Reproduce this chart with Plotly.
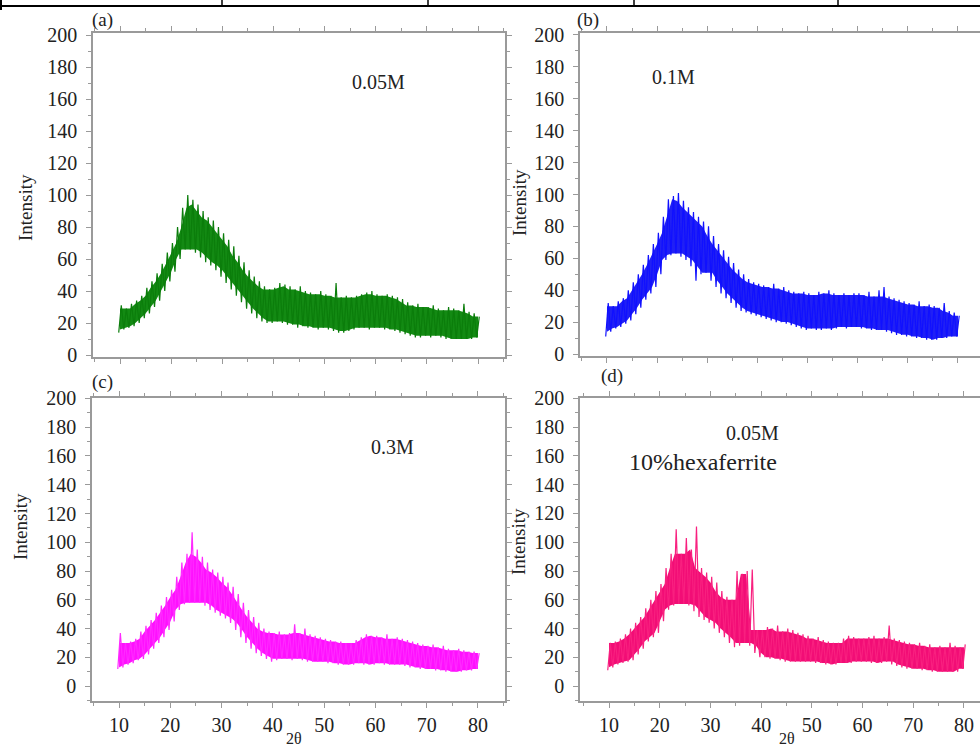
import plotly.graph_objects as go

W, H = 980, 749

# ---------------- data ----------------
two_theta = list(range(10, 81))  # 1 degree grid

a_hi = [31, 29, 32, 34, 37, 42, 46, 51, 57, 64,
        70, 80, 92, 100, 97, 94, 90, 86, 84, 80,
        76, 72, 68, 62, 58, 53, 49, 46, 43, 41,
        42, 45, 44, 43, 41, 43, 40, 39, 38, 40,
        38, 37, 45, 36, 37, 36, 37, 38, 39, 40,
        38, 37, 38, 37, 36, 35, 33, 31, 32, 30,
        30, 31, 29, 28, 30, 29, 28, 32, 27, 26, 24]
a_lo = [14, 16, 17, 18, 20, 23, 26, 30, 34, 40,
        46, 52, 60, 66, 66, 64, 61, 58, 56, 53,
        49, 45, 41, 37, 33, 29, 26, 23, 21, 20,
        20, 21, 20, 19, 19, 17, 18, 17, 17, 16,
        17, 16, 15, 14, 14, 15, 16, 17, 17, 16,
        17, 17, 16, 16, 15, 14, 13, 12, 11, 11,
        12, 11, 12, 11, 10, 10, 10, 10, 10, 10, 11]

b_hi = [32, 30, 33, 35, 40, 45, 50, 56, 62, 69,
        76, 86, 97, 99, 101, 96, 92, 89, 86, 83,
        80, 74, 69, 65, 61, 57, 53, 50, 47, 45,
        44, 43, 42, 44, 41, 42, 40, 39, 38, 39,
        38, 37, 39, 38, 40, 38, 37, 38, 37, 38,
        38, 37, 39, 36, 40, 42, 36, 35, 34, 33,
        32, 31, 33, 30, 31, 30, 29, 32, 27, 26, 24]
b_lo = [11, 14, 16, 17, 19, 21, 25, 29, 34, 38,
        42, 50, 59, 62, 63, 61, 59, 55, 46, 50,
        51, 46, 42, 38, 35, 32, 29, 27, 26, 25,
        24, 23, 22, 21, 20, 20, 19, 18, 17, 16,
        15, 16, 15, 15, 16, 15, 16, 17, 16, 17,
        17, 16, 16, 15, 15, 15, 14, 13, 12, 12,
        11, 11, 10, 10, 9, 9, 9, 10, 10, 11, 11]

c_hi = [37, 30, 31, 33, 38, 42, 46, 51, 56, 62,
        67, 76, 86, 92, 107, 95, 90, 86, 81, 79,
        76, 72, 69, 64, 58, 53, 48, 44, 40, 38,
        37, 38, 36, 37, 43, 37, 40, 36, 35, 34,
        33, 32, 31, 31, 30, 30, 32, 34, 36, 35,
        35, 34, 36, 33, 34, 33, 32, 31, 30, 29,
        28, 29, 27, 28, 26, 25, 26, 25, 24, 24, 23]
c_lo = [12, 13, 15, 16, 18, 19, 22, 26, 30, 34,
        39, 45, 53, 57, 58, 58, 58, 56, 53, 51,
        49, 47, 44, 39, 34, 30, 26, 23, 21, 19,
        17, 18, 19, 19, 18, 19, 18, 17, 17, 17,
        17, 16, 16, 15, 15, 15, 15, 16, 15, 15,
        15, 16, 15, 15, 15, 15, 14, 13, 13, 12,
        12, 12, 11, 11, 10, 10, 10, 10, 11, 11, 12]

d_hi = [30, 31, 33, 36, 40, 44, 48, 54, 60, 66,
        71, 82, 92, 109, 92, 103, 95, 111, 82, 79,
        76, 72, 66, 62, 60, 80, 78, 80, 81, 39,
        39, 41, 40, 42, 38, 40, 39, 37, 36, 35,
        33, 34, 32, 31, 30, 30, 33, 35, 34, 33,
        33, 34, 35, 33, 34, 42, 33, 32, 31, 30,
        29, 30, 28, 29, 27, 28, 27, 30, 28, 27, 29]
d_lo = [11, 13, 15, 16, 17, 18, 22, 26, 31, 34,
        37, 45, 53, 56, 57, 57, 56, 52, 48, 46,
        44, 40, 37, 34, 30, 27, 28, 30, 28, 23,
        20, 20, 19, 19, 18, 17, 17, 17, 17, 17,
        17, 16, 16, 15, 15, 15, 16, 16, 16, 17,
        17, 17, 16, 16, 16, 17, 15, 14, 13, 12,
        12, 12, 11, 11, 10, 10, 10, 10, 10, 10, 12]

panel_labels = ["(a)", "(b)", "(c)", "(d)"]
sample_labels = ["0.05M", "0.1M", "0.3M", "0.05M"]
y_ticks = list(range(0, 201, 20))
x_ticks = list(range(10, 81, 10))

series = [(a_lo, a_hi, "#0b7d0b", "#138a13"),
          (b_lo, b_hi, "#1010ff", "#2020f5"),
          (c_lo, c_hi, "#ff2aff", "#ff10ff"),
          (d_lo, d_hi, "#f8207f", "#f20d76")]


def zigzag(x, lo, hi):
    xs, ys = [], []
    for xi, l, h in zip(x, lo, hi):
        xs += [xi - 0.25, xi + 0.25]
        ys += [l, h]
    return xs, ys


def core(x, lo, hi):
    # dense body of the noisy band: the part covered by neighbouring samples too
    n = len(x)
    top = [min(hi[max(0, i - 1):i + 2]) for i in range(n)]
    bot = [max(lo[max(0, i - 1):i + 2]) for i in range(n)]
    px = list(x) + list(x[::-1])
    py = top + bot[::-1]
    return px, py


def fx(px):
    return px / W


def fy(py):
    return 1 - py / H


# panel geometry in pixels: (left, right, top, bottom, xrange, yrange)
panels = [
    (93, 505, 33, 357, [4.72, 85.28], [-1.25, 201.25]),
    (580, 980, 33, 356, [4.62, 84.39], [-1.25, 201.25]),
    (92, 505, 398, 701, [4.72, 85.28], [-10.3, 200.3]),
    (580, 980, 398, 701, [4.28, 83.16], [-10.4, 200.3]),
]

fig = go.Figure()
font_family = "Liberation Serif, Times New Roman, serif"
layout = dict(width=W, height=H, margin=dict(l=0, r=0, t=0, b=0, autoexpand=False),
              paper_bgcolor="white", plot_bgcolor="white", showlegend=False,
              font=dict(family=font_family, color="#222"))

for i, ((lo, hi, col, fillcol), (l, r, t, b, xr, yr)) in enumerate(zip(series, panels)):
    n = "" if i == 0 else str(i + 1)
    cx, cy = core(two_theta, lo, hi)
    fig.add_trace(go.Scatter(x=cx, y=cy, mode="lines", fill="toself",
                             fillcolor=fillcol, line=dict(width=0),
                             xaxis="x" + n, yaxis="y" + n, hoverinfo="skip"))
    xs, ys = zigzag(two_theta, lo, hi)
    fig.add_trace(go.Scatter(x=xs, y=ys, mode="lines",
                             line=dict(color=col, width=1.2),
                             xaxis="x" + n, yaxis="y" + n, hoverinfo="skip"))
    common = dict(showline=True, linecolor="#9a9a9a", linewidth=1.5,
                  ticks="outside", ticklen=5, tickcolor="#9a9a9a", showgrid=False,
                  zeroline=False, tickfont=dict(size=20, family=font_family, color="#222"))
    layout["xaxis" + n] = dict(domain=[fx(l), fx(r)], range=xr, anchor="y" + n,
                               tickvals=x_ticks, showticklabels=(i >= 2), mirror="ticks",
                               minor=dict(dtick=5, tick0=0, ticklen=3, ticks="outside",
                                          tickcolor="#9a9a9a"),
                               ticklabelstandoff=0, **common)
    layout["yaxis" + n] = dict(domain=[fy(b), fy(t)], range=yr, anchor="x" + n,
                               tickvals=y_ticks, mirror=("ticks" if i in (0, 2) else False),
                               minor=dict(dtick=10, tick0=0, ticklen=3, ticks="outside",
                                          tickcolor="#9a9a9a"),
                               ticklabelstandoff=5, **common)

fig.update_layout(**layout)


def ann(text, px, py, size, angle=0):
    fig.add_annotation(text=text, x=fx(px), y=fy(py), xref="paper", yref="paper",
                       xanchor="center", yanchor="middle", showarrow=False,
                       textangle=angle, font=dict(size=size, family=font_family, color="#222"))


for lab, (px, py) in zip(panel_labels, [(102, 20), (588, 20), (102, 382), (612, 376)]):
    ann(lab, px, py, 19)
for lab, (px, py) in zip(sample_labels, [(378, 82), (673, 77), (392, 447), (752, 433)]):
    ann(lab, px, py, 20)
ann("10%hexaferrite", 703, 462, 24)
for px, py in [(25, 208), (520, 203), (20, 527), (518, 542)]:
    ann("Intensity", px, py, 19, angle=-90)
for px in (294, 787):
    ann("2θ", px, 738, 16)

# table border strip at the very top of the image
fig.add_shape(type="line", xref="paper", yref="paper", x0=0, x1=1, y0=fy(6), y1=fy(6),
              line=dict(color="black", width=2))
fig.add_shape(type="line", xref="paper", yref="paper", x0=fx(1), x1=fx(1), y0=fy(0), y1=fy(10),
              line=dict(color="black", width=2))
for px in (222, 428, 634, 838):
    fig.add_shape(type="line", xref="paper", yref="paper", x0=fx(px), x1=fx(px),
                  y0=fy(0), y1=fy(6), line=dict(color="black", width=1.5))

fig.write_html("out.html", config={"displayModeBar": False},
               post_script="document.body.style.margin='0';document.body.style.padding='0';"
                           "document.documentElement.style.overflow='hidden';")
